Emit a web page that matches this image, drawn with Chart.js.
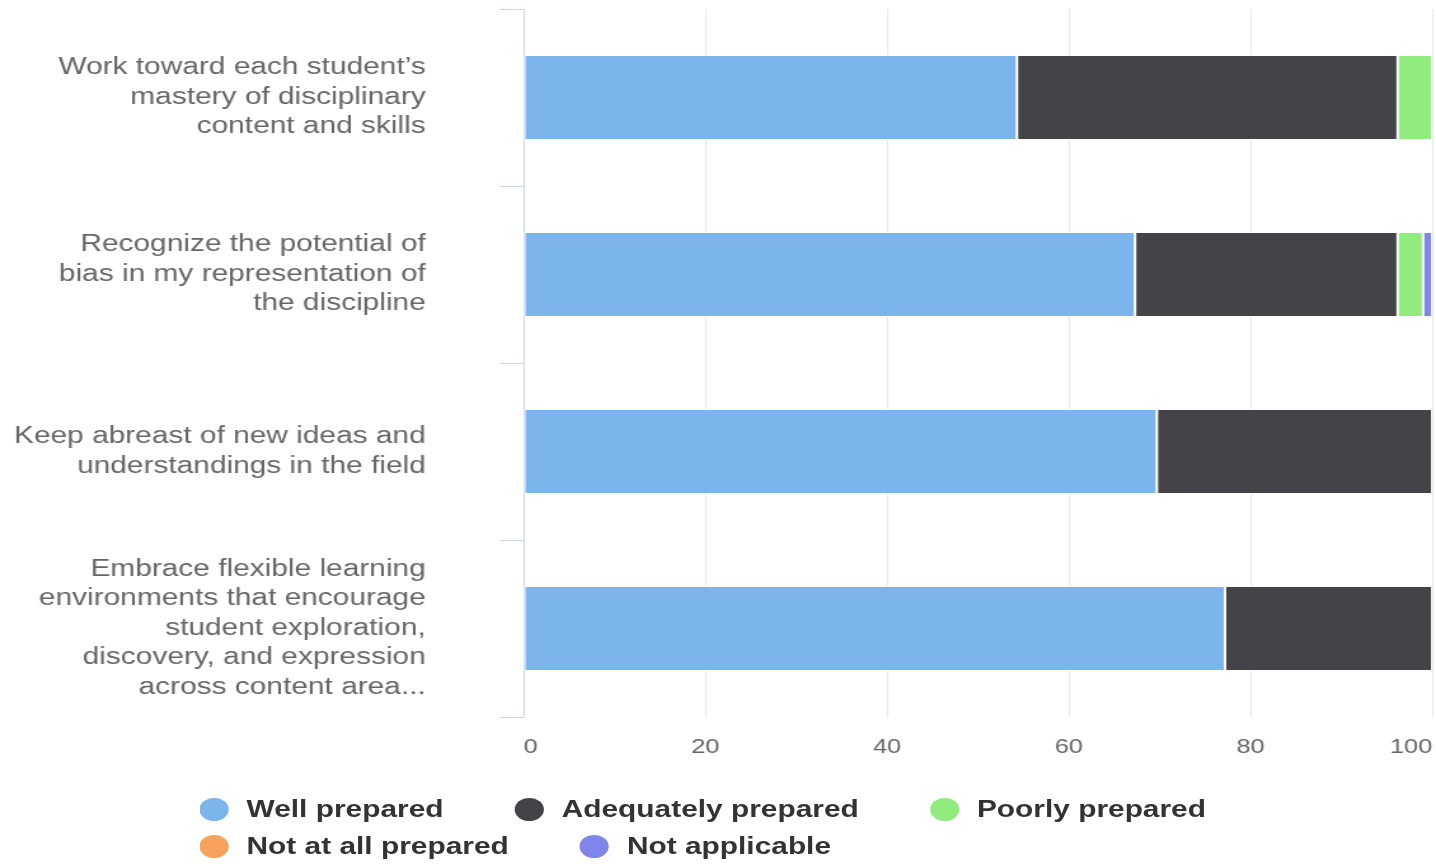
<!DOCTYPE html>
<html>
<head>
<meta charset="utf-8">
<title>Preparation</title>
<script src="https://cdn.jsdelivr.net/npm/chart.js@4.4.1/dist/chart.umd.min.js"></script>
<style>
  html, body { margin: 0; padding: 0; background: #fff; overflow: hidden; }
  /* the reference is stretched sideways, so the whole stage is too */
  #stage { position: relative; width: 1130px; height: 864px; transform: scaleX(1.2708); transform-origin: 0 0; }
  #chart-box { position: absolute; left: 0; top: 0; width: 1130px; height: 864px; }
  #legend {
    position: absolute; left: 157px; top: 798px; width: 900px;
    display: flex; flex-wrap: wrap; column-gap: 56px; row-gap: 14px;
    font: bold 23.5px 'Liberation Sans', Arial, sans-serif; color: #333333;
  }
  .item { display: flex; align-items: center; height: 23px; white-space: nowrap; }
  .dot { width: 23px; height: 23px; border-radius: 50%; margin-right: 14px; }
</style>
</head>
<body>
<div id="stage">
  <div id="chart-box"><canvas id="chart"></canvas></div>
  <div id="legend"></div>
</div>
<script>
/* ======================================================
   Datos
====================================================== */
const CATEGORIES = [
  ['Work toward each student\u2019s', 'mastery of disciplinary', 'content and skills'],
  ['Recognize the potential of', 'bias in my representation of', 'the discipline'],
  ['Keep abreast of new ideas and', 'understandings in the field'],
  ['Embrace flexible learning', 'environments that encourage', 'student exploration,', 'discovery, and expression', 'across content area...']
];

const SERIES_NAMES = ['Well prepared', 'Adequately prepared', 'Poorly prepared', 'Not at all prepared', 'Not applicable'];

const WELL = [54.3, 67.3, 69.7, 77.2];
const ADEQUATE = [41.9, 28.9, 30.3, 22.8];
const POORLY = [3.8, 2.8, 0, 0];
const NOT_AT_ALL = [0, 0, 0, 0];
const NOT_APPLICABLE = [0, 1.0, 0, 0];

const X_MIN = 0;
const X_MAX = 100;
const X_STEP = 20;

const COLORS = ['#7cb5ec', '#434348', '#90ed7d', '#f7a35c', '#8085e9'];

/* ======================================================
   Gráfica
====================================================== */
Chart.defaults.font.family = "'Liberation Sans', Arial, sans-serif";

const seriesValues = [WELL, ADEQUATE, POORLY, NOT_AT_ALL, NOT_APPLICABLE];

const chart = new Chart(document.getElementById('chart'), {
  type: 'bar',
  data: {
    labels: CATEGORIES,
    datasets: seriesValues.map((values, i) => ({
      label: SERIES_NAMES[i],
      data: values,
      backgroundColor: COLORS[i],
      borderColor: '#ffffff',
      borderWidth: 1,
      borderSkipped: false,
      categoryPercentage: 0.48,
      barPercentage: 1
    }))
  },
  options: {
    indexAxis: 'y',
    responsive: true,
    maintainAspectRatio: false,
    animation: false,
    layout: {
      padding: { top: 9, right: 3, bottom: 87, left: 0 }
    },
    plugins: {
      legend: { display: false },
      tooltip: { enabled: false }
    },
    scales: {
      x: {
        stacked: true,
        min: X_MIN,
        max: X_MAX,
        grid: { color: '#e6e6e6', drawTicks: false },
        border: { display: false },
        ticks: {
          stepSize: X_STEP,
          align: 'inner',
          padding: 18,
          color: '#666666',
          font: { size: 20 }
        },
        afterFit(scale) {
          // labels sit inside the plot, no extra room at the ends
          scale.paddingLeft = 0;
          scale.paddingRight = 0;
        }
      },
      y: {
        stacked: true,
        grid: {
          color: '#ccd6eb',
          drawOnChartArea: false,
          tickLength: 19
        },
        border: { color: '#ccd6eb' },
        ticks: {
          autoSkip: false,
          padding: 58,
          color: '#666666',
          font: { size: 23.5, lineHeight: 1.255 }
        },
        afterFit(scale) {
          scale.width = 412;
          scale.paddingTop = 0;
          scale.paddingBottom = 0;
        }
      }
    }
  }
});

/* ======================================================
   Leyenda HTML
====================================================== */
const legendBox = document.getElementById('legend');
chart.data.datasets.forEach(ds => {
  const item = document.createElement('div');
  item.className = 'item';
  const dot = document.createElement('span');
  dot.className = 'dot';
  dot.style.background = ds.backgroundColor;
  const text = document.createElement('span');
  text.textContent = ds.label;
  item.appendChild(dot);
  item.appendChild(text);
  legendBox.appendChild(item);
});
</script>
</body>
</html>
